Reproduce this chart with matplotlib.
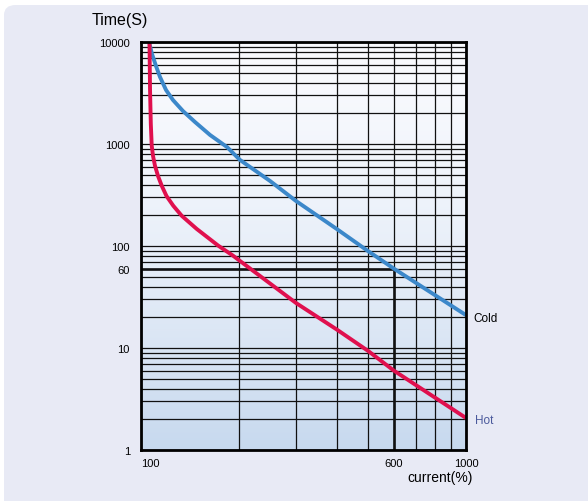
import numpy as np
import matplotlib
matplotlib.use("Agg")
import matplotlib.pyplot as plt
from matplotlib.patches import FancyBboxPatch
from matplotlib.ticker import LogLocator, NullFormatter, FixedLocator

plt.rcParams['font.family'] = ['Liberation Sans', 'DejaVu Sans']

# Data
hot_current = [106.2, 106.6, 107.2, 107.9, 108.9, 110.4, 112.8, 115.8, 119.8, 125.7,
               133.4, 148.4, 172.9, 191.9, 201.7, 300, 400, 500, 600, 1000]
hot_time = [10000, 3460, 1571, 962, 763, 613, 486, 390, 309, 248,
            198, 147, 100.7, 80.4, 71.3, 27.6, 15.2, 9.35, 6.0, 2.06]
cold_current = [106.2, 108.1, 111.2, 114.4, 119.4, 125.4, 134.6, 146.6, 163.1, 183.9,
                201.7, 249.5, 300, 400, 500, 600, 1000]
cold_time = [9560, 7630, 5820, 4540, 3384, 2700, 2106, 1643, 1226, 934,
             697, 434, 276, 147, 89, 60, 21]
ref_current = 600
ref_time = 60
y_ticks = [1, 10, 60, 100, 1000, 10000]
y_labels = ['1', '10', '60', '100', '1000', '10000']
x_ticks = [100, 600, 1000]
x_labels = ['100', '600', '1000']

W, H = 588, 502
fig = plt.figure(figsize=(W / 100, H / 100), dpi=100)
fig.patch.set_facecolor('white')
panel = FancyBboxPatch((4 / W, -0.1), 1.2, 1 - 6 / H + 0.1,
                       boxstyle="round,pad=0,rounding_size=0.02",
                       transform=fig.transFigure, facecolor='#E8EAF5',
                       edgecolor='none', zorder=-10)
fig.patches.append(panel)

ax = fig.add_axes([141 / W, 1 - 451 / H, (466 - 141) / W, (451 - 43) / H])
ax.set_zorder(1)
ax.set_xscale('log')
ax.set_yscale('log')
ax.set_xlim(100, 1000)
ax.set_ylim(1, 10000)

# gradient background
t = np.linspace(0, 1, 256)[:, None] ** 1.6
top = np.array([0.975, 0.98, 0.995])
bot = np.array([0.78, 0.85, 0.935])
grad = top + (bot - top) * t
img = np.repeat(grad[:, None, :], 2, axis=1).reshape(256, 2, 3)
ax.imshow(img, extent=[0, 1, 0, 1], transform=ax.transAxes, aspect='auto',
          zorder=0, interpolation='bilinear')

ax.xaxis.set_major_locator(FixedLocator(x_ticks))
ax.xaxis.set_minor_locator(LogLocator(base=10, subs=np.arange(2, 10)))
ax.yaxis.set_major_locator(FixedLocator(y_ticks))
ax.yaxis.set_minor_locator(LogLocator(base=10, subs=np.arange(2, 10), numticks=20))
ax.xaxis.set_minor_formatter(NullFormatter())
ax.yaxis.set_minor_formatter(NullFormatter())
ax.set_xticklabels(x_labels)
ax.set_yticklabels(y_labels)
ax.grid(True, which='both', color='#111111', lw=0.9, zorder=1)
ax.set_axisbelow(False)
ax.tick_params(which='both', length=0)
ax.tick_params(axis='y', pad=8, labelsize=8)
ax.tick_params(axis='x', pad=6, labelsize=8)
for lab in ax.get_xticklabels():
    if lab.get_text() == '100':
        lab.set_horizontalalignment('left')
for s in ax.spines.values():
    s.set_linewidth(2)
    s.set_color('black')
    s.set_zorder(5)

ax.plot([100, ref_current], [ref_time, ref_time], color='black', lw=1.8, zorder=2)
ax.plot([ref_current, ref_current], [1, ref_time], color='black', lw=1.8, zorder=2)

ax.plot(cold_current, cold_time, color='#3C88CA', lw=2.8, zorder=3,
        solid_capstyle='butt', solid_joinstyle='round', clip_on=False)
ax.plot(hot_current, hot_time, color='#E0104E', lw=2.8, zorder=4,
        solid_capstyle='butt', solid_joinstyle='round', clip_on=False)

fig.text(92 / W, 1 - 20 / H, 'Time(S)', fontsize=11.5, ha='left', va='center')
fig.text(407 / W, 1 - 478 / H, 'current(%)', fontsize=10, ha='left', va='center')
fig.text(473 / W, 1 - 319 / H, 'Cold', fontsize=8.5, ha='left', va='center', color='black')
fig.text(475 / W, 1 - 421 / H, 'Hot', fontsize=8.5, ha='left', va='center', color='#4B5A9C')

fig.savefig('out.png', dpi=100, facecolor=fig.get_facecolor())
